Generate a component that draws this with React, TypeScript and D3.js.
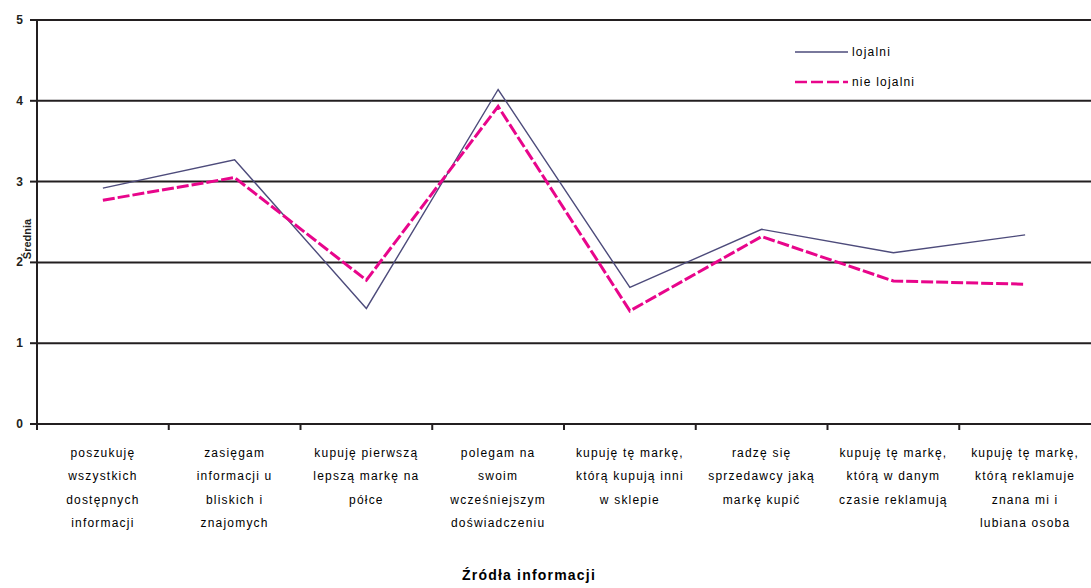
import React from "react";
import * as d3 from "d3";

// Categories (multi-line labels), series values and axis ticks
const categories: string[][] = [
  ["poszukuję", "wszystkich", "dostępnych", "informacji"],
  ["zasięgam", "informacji u", "bliskich i", "znajomych"],
  ["kupuję pierwszą", "lepszą markę na", "półce"],
  ["polegam na", "swoim", "wcześniejszym", "doświadczeniu"],
  ["kupuję tę markę,", "którą kupują inni", "w sklepie"],
  ["radzę się", "sprzedawcy jaką", "markę kupić"],
  ["kupuję tę markę,", "którą w danym", "czasie reklamują"],
  ["kupuję tę markę,", "którą reklamuje", "znana mi i", "lubiana osoba"],
];

const lojalni: number[] = [2.92, 3.27, 1.43, 4.14, 1.69, 2.41, 2.12, 2.34];
const nieLojalni: number[] = [2.77, 3.05, 1.78, 3.93, 1.4, 2.32, 1.77, 1.73];

const yTicks: number[] = [0, 1, 2, 3, 4, 5];

const seriesNames = ["lojalni", "nie lojalni"];

const W = 1091;
const H = 588;
const left = 37;
const right = 1091;
const top = 20;
const bottom = 424;

const PURPLE = "#4d4b7b";
const MAGENTA = "#e8058b";
const INK = "#231f20";
const FONT = "'Liberation Sans', Arial, sans-serif";

export default function App() {
  const keys = categories.map((_, i) => String(i));
  const x = d3.scaleBand<string>().domain(keys).range([left, right]).padding(0);
  const y = d3.scaleLinear().domain([0, 5]).range([bottom, top]);
  const cx = (i: number) => (x(String(i)) as number) + x.bandwidth() / 2;

  const line = d3
    .line<number>()
    .x((_, i) => cx(i))
    .y((d) => y(d));

  const boundaries = keys.map((k) => x(k) as number);

  return (
    <div style={{ position: "absolute", left: 0, top: 0, width: W, height: H, background: "#fff" }}>
      <svg width={W} height={H} style={{ display: "block", fontFamily: FONT }}>
        <rect width={W} height={H} fill="#fff" />

        {/* horizontal gridlines and y ticks */}
        {yTicks.map((t) => (
          <g key={t}>
            <line x1={left} x2={right} y1={y(t)} y2={y(t)} stroke={INK} strokeWidth={2} />
            <line x1={30} x2={left} y1={y(t)} y2={y(t)} stroke={INK} strokeWidth={2} />
            <text
              x={23}
              y={y(t) + 4}
              textAnchor="end"
              fontSize={12}
              fontWeight="bold"
              fill={INK}
            >
              {t}
            </text>
          </g>
        ))}

        {/* y axis */}
        <line x1={left} x2={left} y1={top} y2={bottom + 6} stroke={INK} strokeWidth={2} />

        {/* category boundary ticks */}
        {boundaries.map((bx, i) => (
          <line key={i} x1={bx} x2={bx} y1={bottom} y2={bottom + 6} stroke={INK} strokeWidth={2} />
        ))}

        {/* category labels */}
        {categories.map((lines, i) => (
          <text
            key={i}
            x={cx(i)}
            textAnchor="middle"
            fontSize={12}
            letterSpacing={1.2}
            fill="#000"
          >
            {lines.map((l, j) => (
              <tspan key={j} x={cx(i)} y={457 + j * 23.3}>
                {l}
              </tspan>
            ))}
          </text>
        ))}

        {/* series */}
        <path d={line(lojalni) ?? ""} fill="none" stroke={PURPLE} strokeWidth={1.4} />
        <path
          d={line(nieLojalni) ?? ""}
          fill="none"
          stroke={MAGENTA}
          strokeWidth={3}
          strokeDasharray="12 3"
        />

        {/* legend */}
        <line x1={795} x2={848} y1={52} y2={52} stroke={PURPLE} strokeWidth={1.6} />
        <text x={852} y={56} fontSize={12} letterSpacing={1.2} fill="#000">
          {seriesNames[0]}
        </text>
        <line
          x1={795}
          x2={848}
          y1={82}
          y2={82}
          stroke={MAGENTA}
          strokeWidth={2.6}
          strokeDasharray="12 4"
        />
        <text x={852} y={86} fontSize={12} letterSpacing={1.2} fill="#000">
          {seriesNames[1]}
        </text>

        {/* axis titles */}
        <text
          transform={`translate(31, ${239}) rotate(-90)`}
          textAnchor="middle"
          fontSize={11}
          fontWeight="bold"
          fill={INK}
        >
          Średnia
        </text>
        <text x={529} y={580} textAnchor="middle" fontSize={14} fontWeight="bold" letterSpacing={1.2} fill="#000">
          Źródła informacji
        </text>
      </svg>
    </div>
  );
}
